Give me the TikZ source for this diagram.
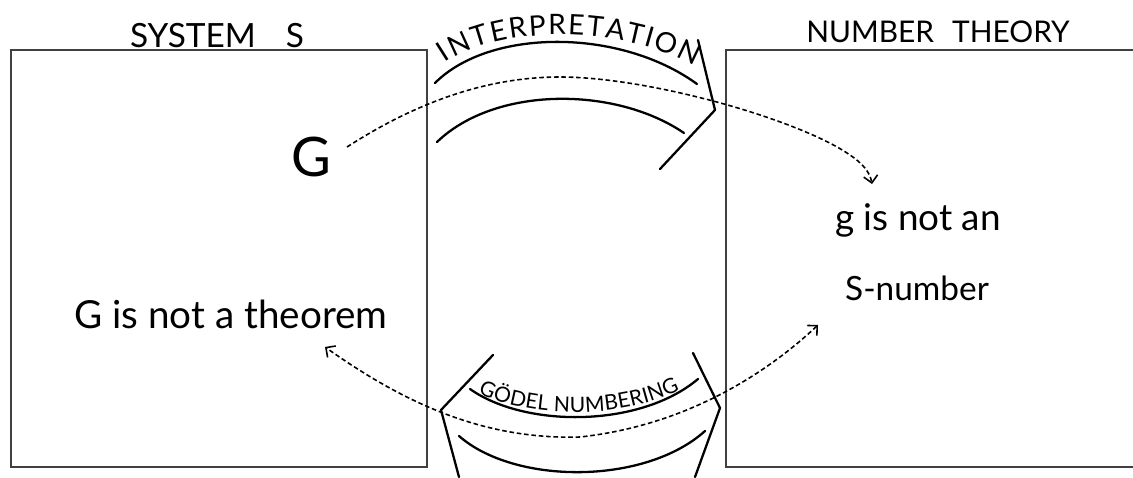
\documentclass[tikz,border=0pt]{standalone}
\usepackage{fontspec}
\setmainfont{Lato}
\usetikzlibrary{arrows.meta,decorations.text}
\begin{document}
\begin{tikzpicture}[x=0.02cm,y=-0.02cm,
  frame/.style={draw=black!75,line width=1.2pt,inner sep=0pt,minimum height=8.34cm},
  stroke/.style={line width=1.3pt,line cap=round,line join=round},
  >={Straight Barb[length=4pt,width=8pt,line width=0.9pt]},
  dashlink/.style={line width=0.9pt,dash pattern=on 2.6pt off 1.6pt},
  lbl/.style={inner sep=0pt,anchor=base},
]
\useasboundingbox (0,0) rectangle (1133,477);
\clip (0,0) rectangle (1133,477);

% boxes
\node[frame,minimum width=8.32cm] (sysbox) at (219,258.5) {};
\node[frame,minimum width=8.68cm] (ntbox) at (943,258.5) {};

% titles
\node[lbl,font=\fontsize{19}{22}\selectfont] (systitle) at (217,47) {SYSTEM\hspace{0.9em}S};
\node[lbl,font=\fontsize{17}{20}\selectfont] (nttitle) at (938,42) {NUMBER\hspace{0.6em}THEORY};

% texts
\node[font=\fontsize{31}{34}\selectfont,inner sep=0pt] (bigG) at (311,157) {G};
\node[lbl,font=\fontsize{22}{24}\selectfont] (Gthm) at (231,328) {G is not a theorem};
\node[lbl,font=\fontsize{21}{24}\selectfont] (gnot) at (918,230) {g is not an};
\node[lbl,font=\fontsize{19}{22}\selectfont] (snum) at (917,300) {S-number};

% interpretation arrow
\draw[stroke] (435,83) .. controls (490,28) and (620,28) .. (697,84);
\draw[stroke] (437,142) .. controls (495,86) and (615,86) .. (684,133);
\draw[stroke] (698,40) -- (715,110) -- (660,169);
\path[decorate,decoration={text along path,text align=fit to path,
  text={|\fontsize{16}{18}\selectfont|INTERPRETATION}}]
  (445,63) .. controls (500,25) and (620,25) .. (695,66);

% goedel numbering bracket
\draw[stroke] (470,389) .. controls (525,428) and (640,428) .. (698,379);
\draw[stroke] (459,436) .. controls (515,485) and (645,485) .. (705,431);
\draw[stroke] (493,355) -- (441,410) -- (459,477);
\draw[stroke] (693,353) -- (720,408) -- (695,477);
\path[decorate,decoration={text along path,text align=fit to path,
  text={|\fontsize{12}{14}\selectfont|GÖDEL NUMBERING}}]
  (478,393) .. controls (530,418) and (620,420) .. (680,390);

% dashed connectors
\coordinate (a1s) at (347,147);
\coordinate (a1e) at (872,184);
\coordinate (a2s) at (818,325);
\coordinate (a2e) at (325,347);
\draw[dashlink,->] (a1s) .. controls (420,100) and (490,77) .. (560,77)
  .. controls (650,77) and (800,120) .. (850,155)
  .. controls (862,163) and (870,172) .. (a1e);
\draw[dashlink,<->] (a2s) .. controls (770,370) and (690,425) .. (580,437)
  .. controls (480,440) and (400,400) .. (a2e);
\end{tikzpicture}
\end{document}
